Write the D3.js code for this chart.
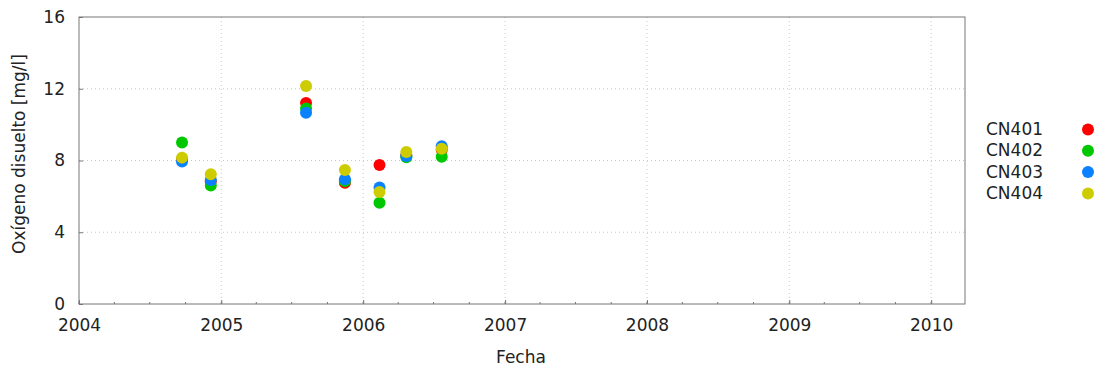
<!DOCTYPE html>
<html><head><meta charset="utf-8">
<script src="https://cdn.jsdelivr.net/npm/d3@7"></script>
<style>body{margin:0;background:#fff}svg{display:block}text{font-family:"DejaVu Sans",sans-serif;fill:#222}</style>
</head><body><svg id="c" width="1103" height="369"></svg>
<script>
const dates = ["2004-09-22","2004-12-05","2005-08-07","2005-11-15","2006-02-12","2006-04-22","2006-07-22"];
const series = ["CN401","CN402","CN403","CN404"];
const colors = ["#ff0000","#00c800","#0a82ff","#cccc00"];
const CN401 = [8.05, 6.85, 11.2, 6.76, 7.75, 8.3, 8.6];
const CN402 = [9.0, 6.6, 10.9, 6.85, 5.65, 8.18, 8.21];
const CN403 = [7.95, 6.91, 10.66, 6.95, 6.5, 8.25, 8.8];
const CN404 = [8.16, 7.23, 12.15, 7.47, 6.24, 8.47, 8.66];
const values = [CN401, CN402, CN403, CN404];
const yTicks = [0,4,8,12,16];
const xTickYears = [2004,2005,2006,2007,2008,2009,2010];

const svg = d3.select("#c");
const L=79, R=965, T=17, B=304;
const FS = "17px";
const x = d3.scaleTime().domain([new Date(2004,0,1), new Date(2010,2,29)]).range([L,R]);
const y = d3.scaleLinear().domain([0,16]).range([B,T]);
const parse = d3.timeParse("%Y-%m-%d");

// grid
const g = svg.append("g");
g.selectAll(".gx").data(xTickYears.slice(1)).enter().append("line")
  .attr("x1",d=>x(new Date(d,0,1))).attr("x2",d=>x(new Date(d,0,1)))
  .attr("y1",T).attr("y2",B).attr("stroke","#c8c8c8").attr("stroke-dasharray","1,3");
g.selectAll(".gy").data(yTicks.slice(1,-1)).enter().append("line")
  .attr("x1",L).attr("x2",R).attr("y1",d=>y(d)).attr("y2",d=>y(d))
  .attr("stroke","#c8c8c8").attr("stroke-dasharray","1,3");

// axes
const xAxis = d3.axisBottom(x).tickValues(xTickYears.map(d=>new Date(d,0,1)))
  .tickFormat(d3.timeFormat("%Y")).tickSize(-4).tickPadding(15);
const ax = svg.append("g").attr("transform",`translate(0,${B})`).call(xAxis);
ax.select(".domain").remove();
ax.selectAll("line").attr("stroke","#777");
ax.selectAll("text").style("font-size",FS).attr("fill","#222");
const minor = d3.timeMonth.range(new Date(2004,0,1), new Date(2010,2,30), 3);
svg.append("g").selectAll("line").data(minor).enter().append("line")
  .attr("x1",d=>x(d)).attr("x2",d=>x(d)).attr("y1",B).attr("y2",B-2).attr("stroke","#777");

const yAxis = d3.axisLeft(y).tickValues(yTicks).tickSize(-4).tickPadding(14);
const ay = svg.append("g").attr("transform",`translate(${L},0)`).call(yAxis);
ay.select(".domain").remove();
ay.selectAll("line").attr("stroke","#777");
ay.selectAll("text").style("font-size",FS).attr("fill","#222");

svg.append("rect").attr("x",L).attr("y",T).attr("width",R-L).attr("height",B-T)
  .attr("fill","none").attr("stroke","#777").attr("stroke-width",1);

// points
series.forEach((s,i)=>{
  svg.append("g").selectAll("circle").data(values[i].map((v,j)=>({d:parse(dates[j]),v})))
    .enter().append("circle").attr("cx",d=>x(d.d)).attr("cy",d=>y(d.v)).attr("r",6)
    .attr("fill",colors[i]);
});

// labels
svg.append("text").attr("x",521).attr("y",363).attr("text-anchor","middle")
  .style("font-size",FS).text("Fecha");
svg.append("text").attr("transform","translate(25,154) rotate(-90)").attr("text-anchor","middle")
  .style("font-size",FS).text("Oxígeno disuelto [mg/l]");

// legend
const lg = svg.append("g");
series.forEach((s,i)=>{
  lg.append("text").attr("x",986).attr("y",135+i*21.3).style("font-size",FS).text(s);
  lg.append("circle").attr("cx",1088).attr("cy",129.5+i*21.3).attr("r",6).attr("fill",colors[i]);
});
</script></body></html>
